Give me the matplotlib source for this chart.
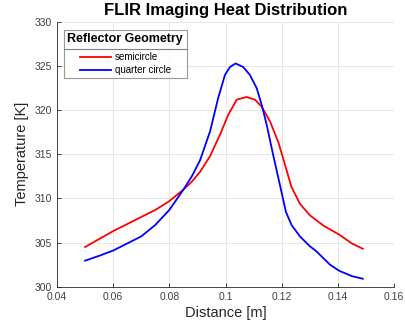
import matplotlib
matplotlib.use("Agg")
import matplotlib.pyplot as plt
from matplotlib.lines import Line2D

plt.rcParams['font.family'] = ['Liberation Sans', 'DejaVu Sans']

semi_x = [0.050, 0.055, 0.060, 0.065, 0.070, 0.075, 0.080, 0.085, 0.088, 0.0909,
          0.0945, 0.098, 0.101, 0.104, 0.1075, 0.1105, 0.1129, 0.1159, 0.1188, 0.1212,
          0.1235, 0.1265, 0.130, 0.135, 0.1405, 0.145, 0.1489]
semi_T = [304.5, 305.4, 306.3, 307.1, 307.9, 308.7, 309.7, 311.0, 311.9, 313.0,
          314.8, 317.2, 319.5, 321.2, 321.5, 321.2, 320.4, 318.7, 316.4, 313.8,
          311.3, 309.4, 308.1, 306.9, 305.9, 304.9, 304.3]

quart_x = [0.050, 0.055, 0.060, 0.065, 0.070, 0.075, 0.080, 0.085, 0.088, 0.0909,
           0.0945, 0.0974, 0.0998, 0.1016, 0.1036, 0.1063, 0.1087, 0.1111, 0.1129, 0.1147,
           0.1170, 0.1194, 0.1215, 0.1235, 0.1265, 0.130, 0.1324, 0.1372, 0.1405, 0.145,
           0.1489]
quart_T = [302.95, 303.5, 304.1, 304.9, 305.7, 307.0, 308.7, 311.0, 312.5, 314.3,
           317.6, 321.4, 324.0, 324.9, 325.3, 324.9, 324.0, 322.5, 320.6, 318.3,
           314.9, 311.5, 308.5, 307.0, 305.7, 304.6, 304.0, 302.5, 301.8, 301.2,
           300.9]

xticks = [0.04, 0.06, 0.08, 0.1, 0.12, 0.14, 0.16]
xticklabels = ['0.04', '0.06', '0.08', '0.1', '0.12', '0.14', '0.16']
yticks = [300, 305, 310, 315, 320, 325, 330]

W, H = 405, 328
fig = plt.figure(figsize=(W / 100, H / 100), dpi=100)
ax = fig.add_axes([57 / W, 1 - 286.7 / H, (394 - 57) / W, (286.7 - 22) / H])

ax.plot(semi_x, semi_T, color=(1, 0, 0), lw=1.3, label='semicircle')
ax.plot(quart_x, quart_T, color=(0, 0, 1), lw=1.3, label='quarter circle')

ax.set_xlim(0.04, 0.16)
ax.set_ylim(300, 330)
ax.set_xticks(xticks)
ax.set_xticklabels(xticklabels)
ax.set_yticks(yticks)
ax.grid(True, color='#e6e6e6', lw=0.7)
ax.set_axisbelow(True)
for s in ['top', 'right']:
    ax.spines[s].set_visible(False)
for s in ['left', 'bottom']:
    ax.spines[s].set_color('#262626')
    ax.spines[s].set_linewidth(0.6)
ax.tick_params(direction='in', length=3, width=0.6, colors='#262626',
               labelsize=7.5, labelcolor='#404040')

ax.set_title('FLIR Imaging Heat Distribution', fontsize=12, fontweight='bold', pad=5)
ax.set_xlabel('Distance [m]', fontsize=10.5, color='#262626', labelpad=3)
ax.set_ylabel('Temperature [K]', fontsize=10.5, color='#262626', labelpad=4)

leg = ax.legend(title='Reflector Geometry', loc='upper left',
                bbox_to_anchor=((64 - 57) / 337, 1 - (30 - 22) / 264.7),
                fontsize=7, title_fontproperties={'weight': 'bold', 'size': 9},
                frameon=True, fancybox=False, edgecolor='#808080',
                borderaxespad=0, handlelength=3.2, handletextpad=0.4,
                labelspacing=0.27, borderpad=0.35)
leg.get_frame().set_linewidth(0.8)
sep_pt = 5.0
leg._legend_box.sep = sep_pt

fig.canvas.draw()
fb = leg.get_frame().get_window_extent()
tb = leg.get_title().get_window_extent()
ysep = tb.y0 - sep_pt * 100 / 72 / 2
fig.add_artist(Line2D([fb.x0 / W, fb.x1 / W], [ysep / H, ysep / H],
                      transform=fig.transFigure, color='#808080', lw=0.8))

fig.savefig('out.png', dpi=100)
